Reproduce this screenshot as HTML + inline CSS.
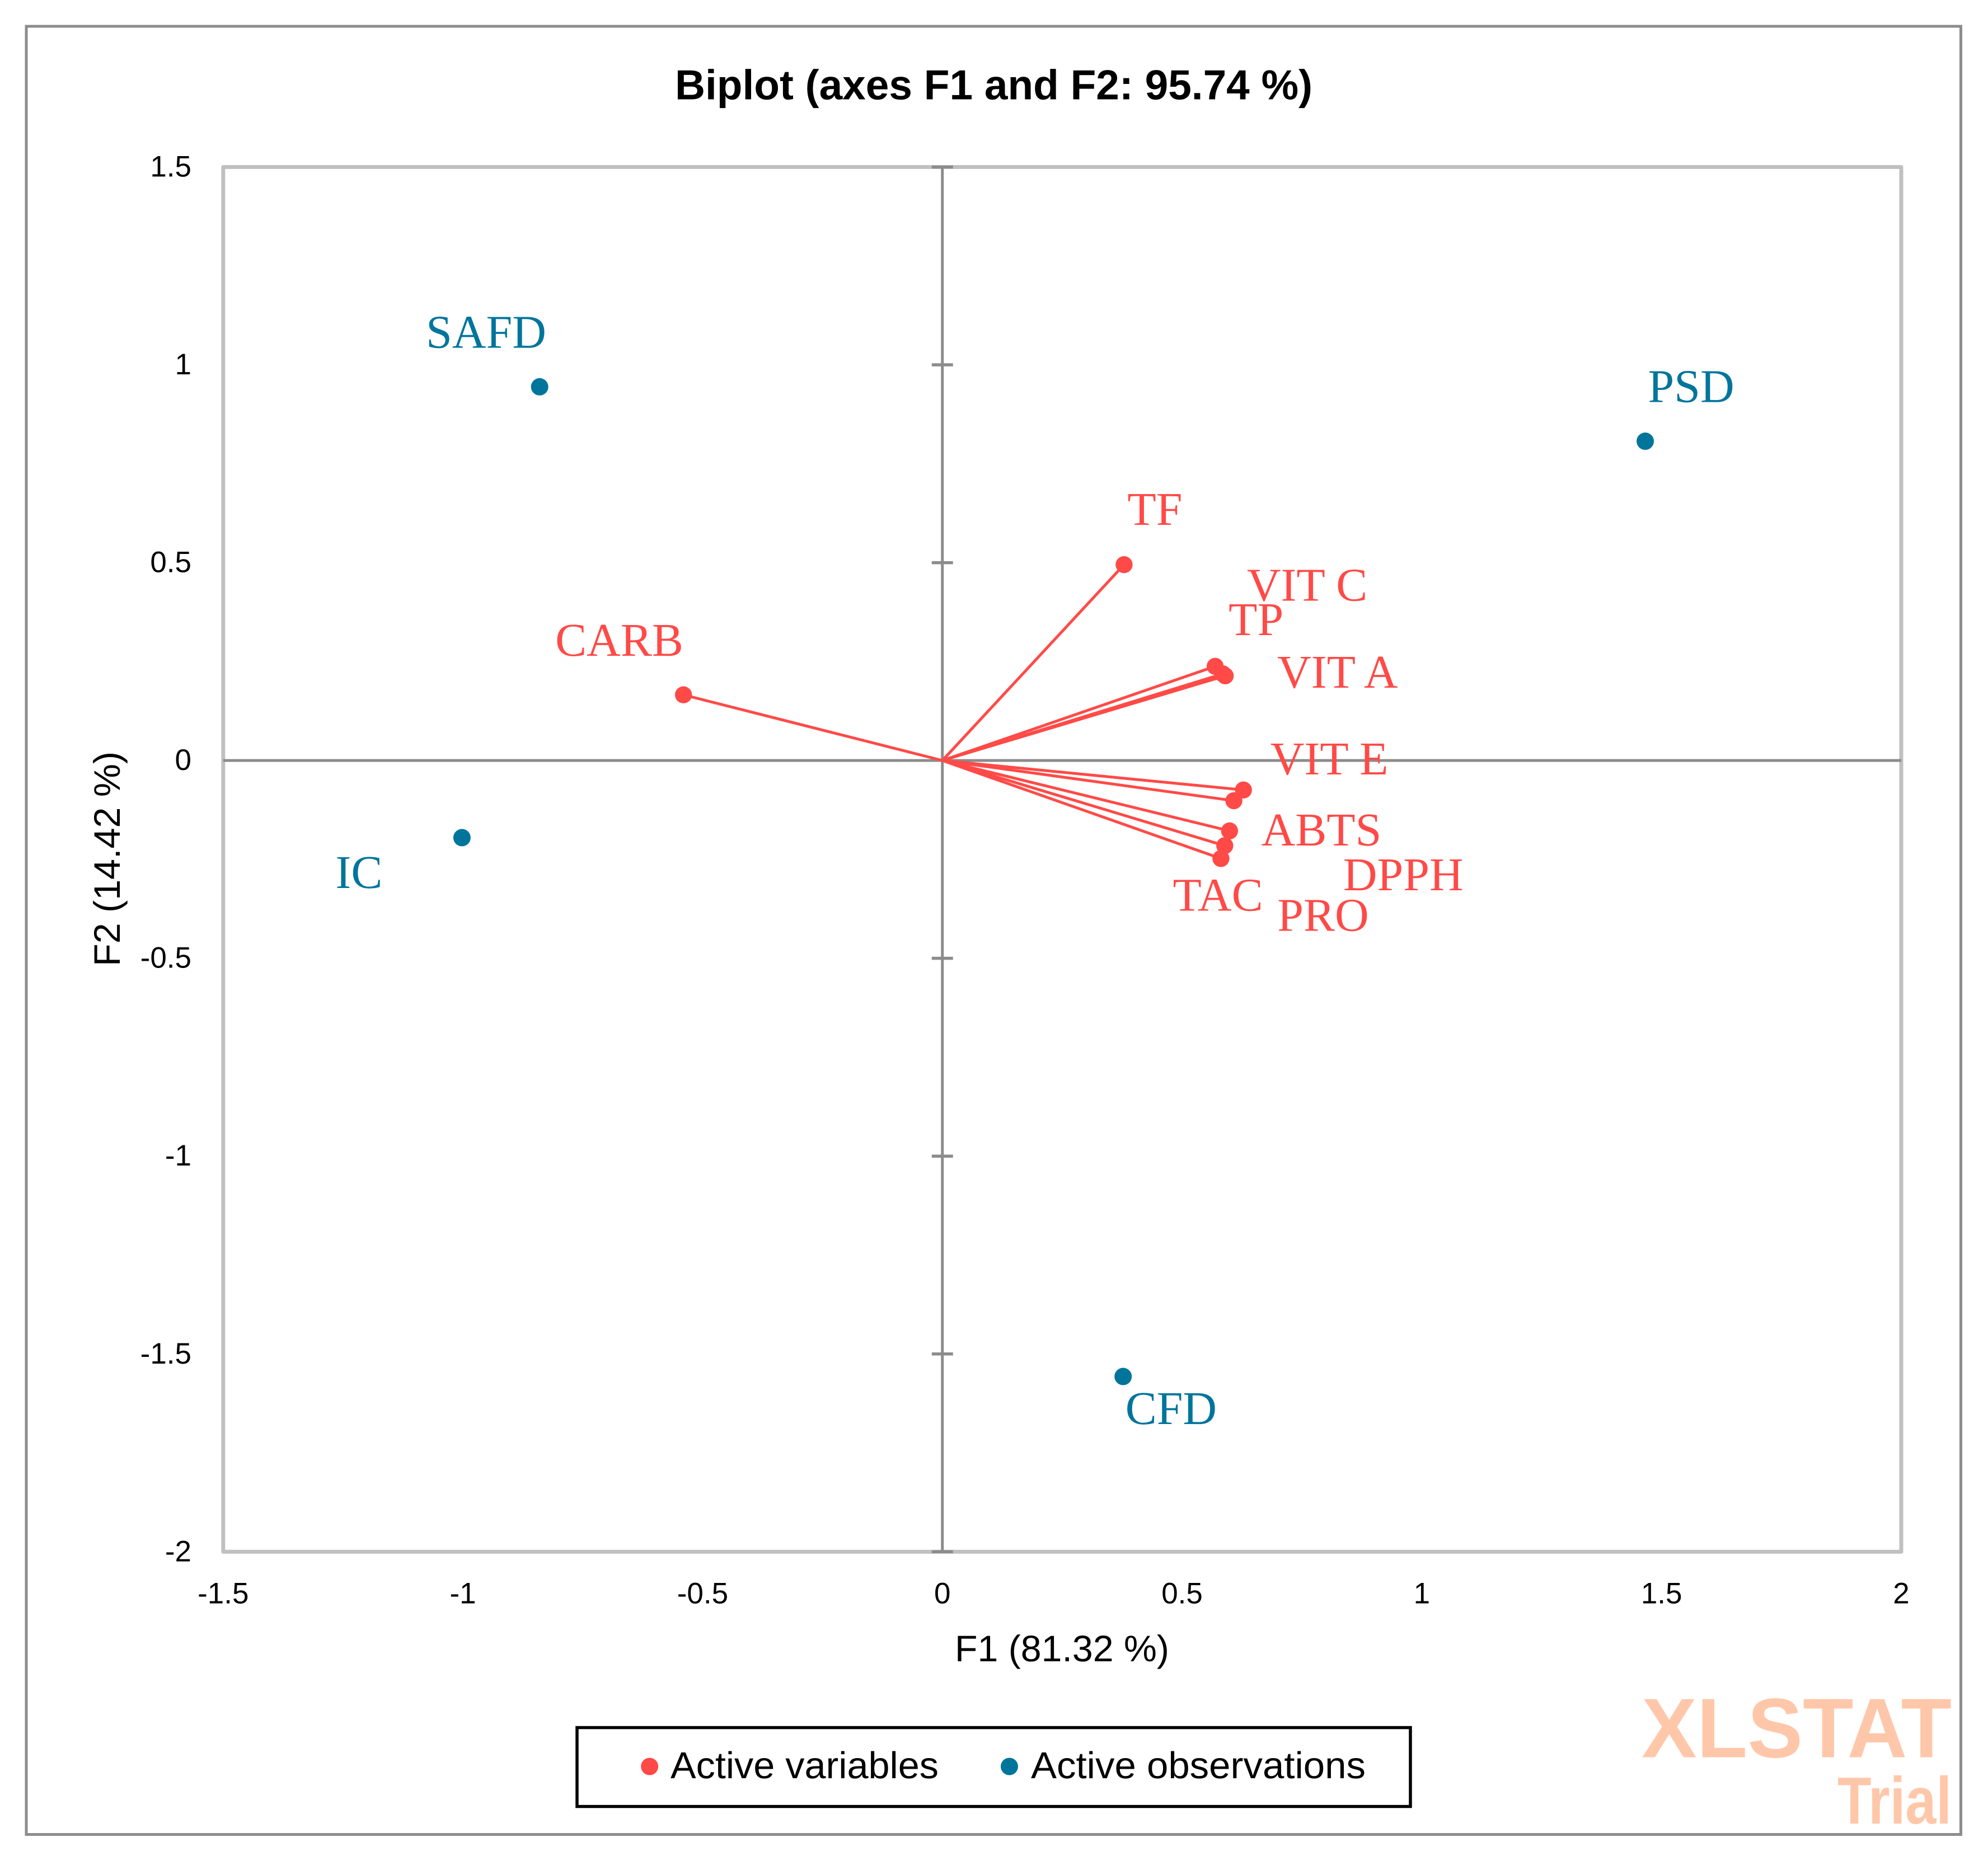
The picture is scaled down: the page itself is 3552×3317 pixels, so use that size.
<!DOCTYPE html>
<html lang="en">
<head>
<meta charset="utf-8">
<title>Biplot (axes F1 and F2: 95.74 %)</title>
<style>
  html, body { margin: 0; padding: 0; background: #fff; }
  svg { display: block; }
  text { text-rendering: geometricPrecision; }
  .sans { font-family: "Liberation Sans", Arial, sans-serif; fill: #000; }
  .serif { font-family: "Liberation Serif", "Times New Roman", serif; font-size: 84px; }
</style>
</head>
<body>
<svg id="chart" xmlns="http://www.w3.org/2000/svg" width="3552" height="3317" viewBox="0 0 3552 3317">
  <rect x="0" y="0" width="3552" height="3317" fill="#ffffff"/>
  <rect x="47" y="47" width="3456.5" height="3231.5" fill="none" stroke="#8c8c8c" stroke-width="5"/>
  <text class="sans" x="1206" y="177.5" font-size="75" font-weight="700" textLength="1139" lengthAdjust="spacingAndGlyphs">Biplot (axes F1 and F2: 95.74 %)</text>
  <rect x="398.8" y="298.5" width="2998.2" height="2474.8" fill="none" stroke="#c0c0c0" stroke-width="7" stroke-linejoin="round"/>
  <g id="axes"></g>
  <g id="vectors"></g>
  <g id="labels"></g>
  <g id="points"></g>
  <text class="sans" x="1706" y="2969" font-size="66" textLength="383" lengthAdjust="spacingAndGlyphs">F1 (81.32 %)</text>
  <text class="sans" transform="translate(214 1727) rotate(-90)" x="0" y="0" font-size="66" textLength="384" lengthAdjust="spacingAndGlyphs">F2 (14.42 %)</text>
  <g>
    <rect x="1031" y="3087.5" width="1489" height="141" fill="#ffffff" stroke="#000000" stroke-width="5.5"/>
    <circle cx="1160.7" cy="3157" r="15.5" fill="#ff4a47"/>
    <text class="sans" x="1198" y="3178" font-size="67" textLength="479" lengthAdjust="spacingAndGlyphs">Active variables</text>
    <circle cx="1803.5" cy="3157" r="15.5" fill="#00759c"/>
    <text class="sans" x="1842" y="3178" font-size="67" textLength="598" lengthAdjust="spacingAndGlyphs">Active observations</text>
  </g>
  <text x="2933" y="3140.5" font-family="'Liberation Sans', Arial, sans-serif" font-weight="700" font-size="151" fill="#ffc7aa" textLength="554" lengthAdjust="spacingAndGlyphs">XLSTAT</text>
  <text x="3283" y="3259" font-family="'Liberation Sans', Arial, sans-serif" font-weight="700" font-size="119" fill="#ffc7aa" textLength="204" lengthAdjust="spacingAndGlyphs">Trial</text>
</svg>
<script>
// Data
const xTickValues = [-1.5, -1, -0.5, 0, 0.5, 1, 1.5, 2];
const xTickLabels = ["-1.5", "-1", "-0.5", "0", "0.5", "1", "1.5", "2"];
const yTickValues = [1.5, 1, 0.5, 0, -0.5, -1, -1.5, -2];
const yTickLabels = ["1.5", "1", "0.5", "0", "-0.5", "-1", "-1.5", "-2"];

const variableNames = ["TF", "TP", "VIT C", "VIT A", "VIT E", "ABTS", "DPPH", "PRO", "TAC", "CARB"];
const variableF1 = [0.379, 0.569, 0.585, 0.590, 0.628, 0.608, 0.599, 0.589, 0.581, -0.540];
const variableF2 = [0.495, 0.238, 0.219, 0.214, -0.0745, -0.1017, -0.178, -0.2154, -0.2478, 0.166];

const observationNames = ["SAFD", "PSD", "IC", "CFD"];
const observationF1 = [-0.840, 1.466, -1.002, 0.377];
const observationF2 = [0.9445, 0.807, -0.195, -1.557];

// Layout: manual label nudges, relative to each point
const variableLabelNudgeX = [6, 24, 43, 93, 48, 49, 203, 94, -86, -229];
const variableLabelNudgeY = [-71, -56, -131, 21, -28, 80, 106, 152, 93, -70];
const observationLabelNudgeX = [-203, 5, -226, 4];
const observationLabelNudgeY = [-70, -70, 90, 85];

// Axis functions
const X_MIN = -1.5, X_MAX = 2, Y_MIN = -2, Y_MAX = 1.5;
const PLOT_LEFT = 398.8, PLOT_RIGHT = 3397, PLOT_TOP = 298.5, PLOT_BOTTOM = 2773.3;
function xScale(v) { return PLOT_LEFT + (v - X_MIN) / (X_MAX - X_MIN) * (PLOT_RIGHT - PLOT_LEFT); }
function yScale(v) { return PLOT_TOP + (Y_MAX - v) / (Y_MAX - Y_MIN) * (PLOT_BOTTOM - PLOT_TOP); }

const NS = "http://www.w3.org/2000/svg";
const RED = "#ff4a47", BLUE = "#00759c", AXIS = "#8c8c8c";
const axesG = document.getElementById("axes");
const vectorsG = document.getElementById("vectors");
const labelsG = document.getElementById("labels");
const pointsG = document.getElementById("points");

function line(parent, x1, y1, x2, y2, stroke, width) {
  const el = document.createElementNS(NS, "line");
  el.setAttribute("x1", x1);
  el.setAttribute("y1", y1);
  el.setAttribute("x2", x2);
  el.setAttribute("y2", y2);
  el.setAttribute("stroke", stroke);
  el.setAttribute("stroke-width", width);
  parent.appendChild(el);
  return el;
}
function text(parent, x, y, content, cls, fill) {
  const el = document.createElementNS(NS, "text");
  el.setAttribute("x", x);
  el.setAttribute("y", y);
  el.setAttribute("class", cls);
  if (fill) el.setAttribute("fill", fill);
  el.textContent = content;
  parent.appendChild(el);
  return el;
}
function dot(parent, x, y, r, fill) {
  const el = document.createElementNS(NS, "circle");
  el.setAttribute("cx", x);
  el.setAttribute("cy", y);
  el.setAttribute("r", r);
  el.setAttribute("fill", fill);
  parent.appendChild(el);
  return el;
}

// Zero axes
const xZeroLine = line(axesG, PLOT_LEFT, yScale(0), PLOT_RIGHT, yScale(0), AXIS, 5);


const yZeroLine = line(axesG, xScale(0), PLOT_TOP, xScale(0), PLOT_BOTTOM, AXIS, 5);



// Y ticks (drawn on the vertical zero axis) and labels
yTickValues.forEach(function (v, i) {
  const y = yScale(v);
  if (v !== 0) {
    const tick = line(axesG, xScale(0) - 19, y, xScale(0) + 19, y, AXIS, 5.5);
    
    
  }
  const lab = text(axesG, 342, y + 17, yTickLabels[i], "sans");
  lab.setAttribute("font-size", "53");
  lab.setAttribute("text-anchor", "end");
  
  
});

// X tick labels
xTickValues.forEach(function (v, i) {
  const lab = text(axesG, xScale(v), 2865.7, xTickLabels[i], "sans");
  lab.setAttribute("font-size", "53");
  lab.setAttribute("text-anchor", "middle");
  
  
});

// Variable vectors, labels, markers
variableNames.forEach(function (name, i) {
  const px = xScale(variableF1[i]);
  const py = yScale(variableF2[i]);
  const vec = line(vectorsG, xScale(0), yScale(0), px, py, RED, 5);
  
  
  const lab = text(labelsG, px + variableLabelNudgeX[i], py + variableLabelNudgeY[i], name, "serif", RED);
  
  
  const pt = dot(pointsG, px, py, 15.2, RED);
  
  
});

// Observations, labels
observationNames.forEach(function (name, i) {
  const px = xScale(observationF1[i]);
  const py = yScale(observationF2[i]);
  const lab = text(labelsG, px + observationLabelNudgeX[i], py + observationLabelNudgeY[i], name, "serif", BLUE);
  
  
  const pt = dot(pointsG, px, py, 15.5, BLUE);
  
  
});
</script>
</body>
</html>
